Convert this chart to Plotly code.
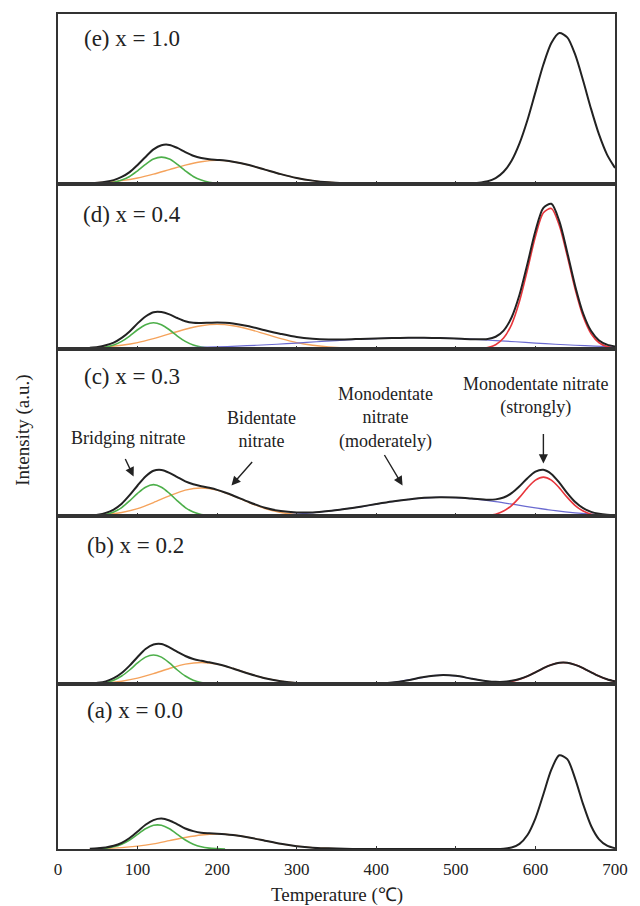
import plotly.graph_objects as go
from plotly.subplots import make_subplots

# Temperature grids (°C) for each kind of curve
GREEN_T = list(range(50, 220, 10))
ORANGE_T = list(range(40, 420, 20))
BLUE_T = list(range(100, 725, 25))
RED_T = list(range(520, 710, 10))
BLACK_T = list(range(40, 230, 10)) + list(range(240, 550, 20)) + list(range(550, 710, 10))

PANEL_LABELS = ["(e) x = 1.0", "(d) x = 0.4", "(c) x = 0.3", "(b) x = 0.2", "(a) x = 0.0"]
TICK_VALUES = [0, 100, 200, 300, 400, 500, 600, 700]

# Bridging nitrate component
GREEN_E = [0.01, 0.03, 0.09, 0.22, 0.44, 0.78, 1.16, 1.48, 1.60, 1.48, 1.16, 0.78, 0.44, 0.22, 0.09, 0.03, 0.01]
GREEN_D = [0.03, 0.09, 0.21, 0.43, 0.75, 1.13, 1.43, 1.55, 1.43, 1.13, 0.75, 0.43, 0.21, 0.09, 0.03, 0.01, 0.00]
GREEN_C = [0.04, 0.11, 0.26, 0.53, 0.93, 1.38, 1.75, 1.90, 1.75, 1.38, 0.93, 0.53, 0.26, 0.11, 0.04, 0.01, 0.00]
GREEN_B = [0.04, 0.10, 0.24, 0.49, 0.85, 1.27, 1.62, 1.75, 1.62, 1.27, 0.85, 0.49, 0.24, 0.10, 0.04, 0.01, 0.00]
GREEN_A = [0.02, 0.05, 0.13, 0.29, 0.54, 0.88, 1.21, 1.42, 1.42, 1.21, 0.88, 0.54, 0.29, 0.13, 0.05, 0.02, 0.00]

# Bidentate nitrate component
ORANGE_E = [0.04, 0.09, 0.19, 0.35, 0.58, 0.85, 1.12, 1.32, 1.40, 1.32, 1.12, 0.85, 0.58, 0.35, 0.19, 0.09, 0.04, 0.02, 0.01]
ORANGE_D = [0.04, 0.10, 0.20, 0.36, 0.60, 0.88, 1.16, 1.37, 1.45, 1.37, 1.16, 0.88, 0.60, 0.36, 0.20, 0.10, 0.04, 0.02, 0.01]
ORANGE_C = [0.03, 0.10, 0.23, 0.47, 0.83, 1.23, 1.57, 1.70, 1.57, 1.23, 0.83, 0.47, 0.23, 0.10, 0.03, 0.01, 0.00, 0.00, 0.00]
ORANGE_B = [0.03, 0.07, 0.18, 0.36, 0.63, 0.94, 1.20, 1.30, 1.20, 0.94, 0.63, 0.36, 0.18, 0.07, 0.03, 0.01, 0.00, 0.00, 0.00]
ORANGE_A = [0.01, 0.04, 0.08, 0.17, 0.31, 0.50, 0.69, 0.84, 0.90, 0.84, 0.69, 0.50, 0.31, 0.17, 0.08, 0.04, 0.01, 0.00, 0.00]

# Monodentate nitrate (moderately bound)
BLUE_D = [0.02, 0.03, 0.05, 0.07, 0.10, 0.15, 0.20, 0.26, 0.33, 0.41, 0.48, 0.55, 0.60, 0.64, 0.65, 0.64, 0.60, 0.55, 0.48, 0.41, 0.33, 0.26, 0.20, 0.15, 0.10]
BLUE_C = [0.00, 0.00, 0.00, 0.00, 0.01, 0.02, 0.04, 0.08, 0.14, 0.24, 0.37, 0.54, 0.74, 0.92, 1.07, 1.14, 1.13, 1.04, 0.89, 0.70, 0.51, 0.34, 0.21, 0.12, 0.07]
BLUE_B = [0.00, 0.00, 0.00, 0.00, 0.00, 0.00, 0.00, 0.00, 0.00, 0.00, 0.00, 0.00, 0.03, 0.13, 0.33, 0.53, 0.50, 0.29, 0.10, 0.02, 0.00, 0.00, 0.00, 0.00, 0.00]

# Monodentate nitrate (strongly bound)
RED_D = [0.00, 0.02, 0.07, 0.23, 0.63, 1.44, 2.83, 4.72, 6.71, 8.13, 8.39, 7.38, 5.54, 3.54, 1.92, 0.89, 0.35, 0.12, 0.03]
RED_C = [0.00, 0.01, 0.05, 0.13, 0.32, 0.65, 1.14, 1.71, 2.17, 2.35, 2.17, 1.71, 1.14, 0.65, 0.32, 0.13, 0.05, 0.01, 0.00]
RED_B = [0.00, 0.01, 0.02, 0.04, 0.08, 0.17, 0.30, 0.48, 0.71, 0.96, 1.16, 1.28, 1.28, 1.16, 0.96, 0.71, 0.48, 0.30, 0.17]

# Measured TPD profiles
BLACK_E = [0.04, 0.07, 0.12, 0.22, 0.41, 0.70, 1.13, 1.61, 2.06, 2.31, 2.33, 2.15, 1.90, 1.68, 1.54, 1.47, 1.43, 1.39, 1.32,
           1.12, 0.85, 0.58, 0.35, 0.19, 0.09, 0.04, 0.02, 0.01, 0.00, 0.00, 0.00, 0.00, 0.00, 0.02, 0.15,
           0.34, 0.72, 1.38, 2.42, 3.82, 5.49, 7.14, 8.43, 9.03, 8.77, 7.73, 6.17, 4.47, 2.94, 1.75, 0.95]
BLACK_D = [0.05, 0.10, 0.20, 0.36, 0.64, 1.03, 1.51, 1.92, 2.18, 2.19, 2.05, 1.83, 1.64, 1.55, 1.54, 1.55, 1.56, 1.55, 1.51,
           1.34, 1.10, 0.88, 0.69, 0.59, 0.55, 0.55, 0.58, 0.61, 0.63, 0.65, 0.65, 0.63, 0.60, 0.56, 0.58,
           0.71, 1.08, 1.86, 3.22, 5.08, 7.04, 8.43, 8.67, 7.63, 5.76, 3.74, 2.10, 1.05, 0.49, 0.24, 0.13]
BLACK_C = [0.04, 0.10, 0.21, 0.41, 0.76, 1.27, 1.85, 2.39, 2.73, 2.78, 2.61, 2.35, 2.10, 1.93, 1.81, 1.71, 1.59, 1.43, 1.25,
           0.86, 0.52, 0.32, 0.24, 0.24, 0.32, 0.44, 0.58, 0.74, 0.89, 1.01, 1.11, 1.15, 1.13, 1.07, 1.00,
           1.02, 1.13, 1.39, 1.80, 2.29, 2.68, 2.79, 2.54, 2.02, 1.40, 0.86, 0.49, 0.27, 0.16, 0.10, 0.07]
BLACK_B = [0.03, 0.08, 0.17, 0.36, 0.67, 1.11, 1.63, 2.11, 2.38, 2.41, 2.21, 1.94, 1.69, 1.51, 1.40, 1.31, 1.21, 1.09, 0.94,
           0.63, 0.36, 0.18, 0.07, 0.03, 0.01, 0.00, 0.01, 0.03, 0.10, 0.24, 0.43, 0.54, 0.50, 0.33, 0.18,
           0.14, 0.14, 0.20, 0.31, 0.48, 0.71, 0.96, 1.16, 1.28, 1.28, 1.16, 0.96, 0.71, 0.48, 0.30, 0.17]
BLACK_A = [0.01, 0.04, 0.09, 0.19, 0.37, 0.66, 1.05, 1.45, 1.73, 1.82, 1.71, 1.48, 1.23, 1.07, 0.97, 0.94, 0.92, 0.89, 0.84,
           0.69, 0.50, 0.31, 0.17, 0.08, 0.04, 0.01, 0.00, 0.00, 0.00, 0.00, 0.00, 0.00, 0.00, 0.00, 0.00,
           0.00, 0.02, 0.09, 0.31, 0.84, 1.84, 3.28, 4.75, 5.61, 5.38, 4.20, 2.67, 1.38, 0.58, 0.20, 0.05]

COL_GREEN = "#4daf4a"
COL_ORANGE = "#f5a35c"
COL_BLUE = "#6a6ad0"
COL_RED = "#e8353b"
COL_BLACK = "#222222"
FRAME = "#333333"
FONT = "Liberation Serif"

# panel heights (px) top to bottom, and a common intensity scale
ROW_PX = [170, 165, 168, 168, 165]
PX_PER_UNIT = 16.72

fig = make_subplots(rows=5, cols=1, shared_xaxes=True, vertical_spacing=0,
                    row_heights=[h / sum(ROW_PX) for h in ROW_PX])


def add_line(row, x, y, color, width):
    fig.add_trace(go.Scatter(x=x, y=y, mode="lines",
                             line=dict(color=color, width=width, shape="spline", smoothing=0.8),
                             hoverinfo="skip"), row=row, col=1)


panels = [
    (1, GREEN_E, ORANGE_E, None, None, BLACK_E),
    (2, GREEN_D, ORANGE_D, BLUE_D, RED_D, BLACK_D),
    (3, GREEN_C, ORANGE_C, BLUE_C, RED_C, BLACK_C),
    (4, GREEN_B, ORANGE_B, BLUE_B, RED_B, BLACK_B),
    (5, GREEN_A, ORANGE_A, None, None, BLACK_A),
]
for row, g, o, b, r, k in panels:
    add_line(row, ORANGE_T, o, COL_ORANGE, 1.4)
    add_line(row, GREEN_T, g, COL_GREEN, 1.6)
    if b is not None:
        add_line(row, BLUE_T, b, COL_BLUE, 1.2)
    if r is not None:
        add_line(row, RED_T, r, COL_RED, 1.6)
    add_line(row, BLACK_T, k, COL_BLACK, 2.0)

for i, h in enumerate(ROW_PX, start=1):
    fig.update_xaxes(range=[0, 700], tickvals=TICK_VALUES, ticks="inside", ticklen=3,
                     tickwidth=1, tickcolor=FRAME, showline=True, mirror=True,
                     linecolor=FRAME, linewidth=2, showgrid=False, zeroline=False,
                     row=i, col=1)
    fig.update_yaxes(range=[0, h / PX_PER_UNIT], showticklabels=False, ticks="",
                     showline=True, mirror=True, linecolor=FRAME, linewidth=2,
                     showgrid=False, zeroline=False, row=i, col=1)

fig.update_xaxes(tickfont=dict(family=FONT, size=17, color="#222"),
                 ticklabelstandoff=4, row=5, col=1)

annotations = []

# panel labels (paper coordinates from pixel positions)
top, bottom = 13, 849
label_px = [(82, 38), (81, 214), (82, 376), (85, 545), (85, 710)]
for text, (px, py) in zip(PANEL_LABELS, label_px):
    annotations.append(dict(text=text, xref="paper", yref="paper",
                            x=(px - 58) / 562, y=(bottom - py) / (bottom - top),
                            xanchor="left", yanchor="middle", showarrow=False,
                            font=dict(family=FONT, size=23, color="#222")))

# peak assignments in panel (c)
notes = [
    ("Bridging nitrate", 88, 4.72),
    ("Bidentate<br>nitrate", 256, 5.20),
    ("Monodentate<br>nitrate<br>(moderately)", 412, 5.92),
    ("Monodentate nitrate<br>(strongly)", 600, 7.21),
]
for text, xv, yv in notes:
    annotations.append(dict(text=text, xref="x3", yref="y3", x=xv, y=yv,
                            xanchor="center", yanchor="middle", showarrow=False,
                            font=dict(family=FONT, size=18, color="#222")))

arrows = [(95, 2.39, -9, -19), (218, 1.85, 22, -25), (433, 1.85, -19, -32), (610, 3.17, 0, -31)]
for xv, yv, ax, ay in arrows:
    annotations.append(dict(text="", xref="x3", yref="y3", x=xv, y=yv, ax=ax, ay=ay,
                            showarrow=True, arrowhead=2, arrowsize=1.3, arrowwidth=1.4,
                            arrowcolor="#222"))

annotations.append(dict(text="Temperature (℃)", xref="paper", yref="paper",
                        x=(340 - 58) / 562, y=(bottom - 895) / (bottom - top),
                        xanchor="center", yanchor="middle", showarrow=False,
                        font=dict(family=FONT, size=19, color="#222")))
annotations.append(dict(text="Intensity (a.u.)", xref="paper", yref="paper",
                        x=(22 - 58) / 562, y=(bottom - 430) / (bottom - top),
                        xanchor="center", yanchor="middle", textangle=-90, showarrow=False,
                        font=dict(family=FONT, size=19, color="#222")))

fig.update_layout(width=640, height=906, margin=dict(l=58, r=20, t=13, b=57),
                  plot_bgcolor="white", paper_bgcolor="white", showlegend=False,
                  annotations=annotations, font=dict(family=FONT, color="#222"))

fig.write_html("out.html")
